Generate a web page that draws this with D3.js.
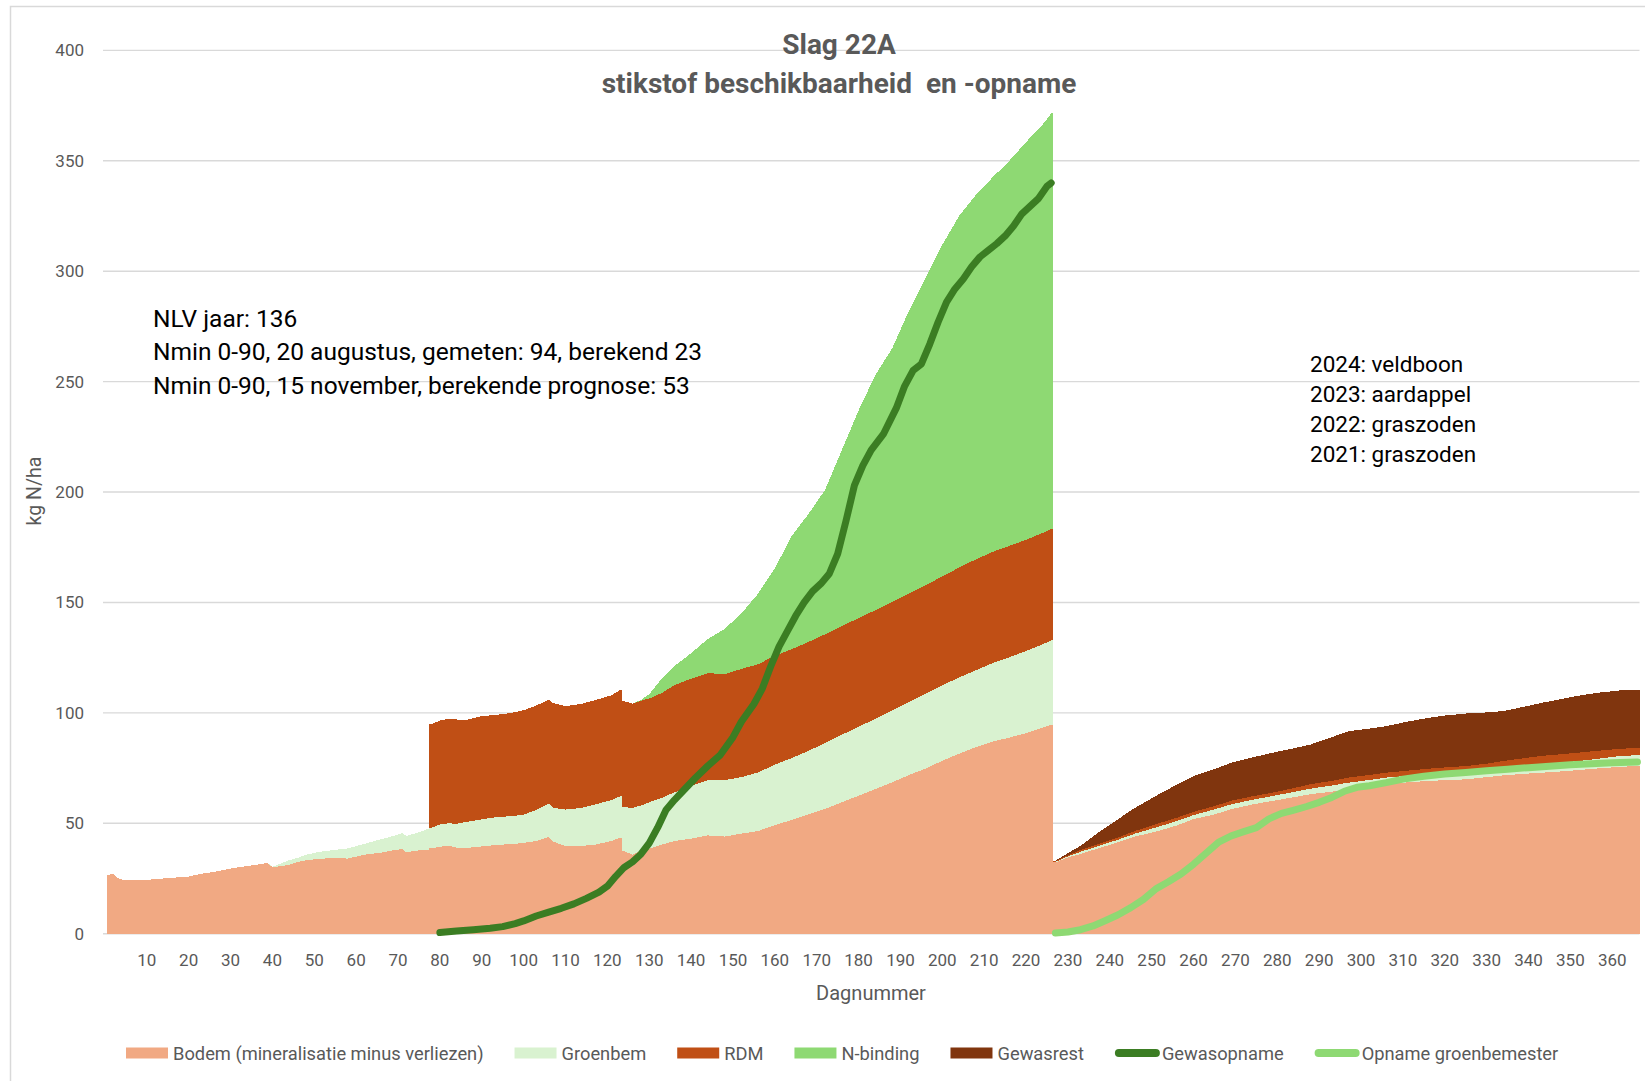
<!DOCTYPE html>
<html>
<head>
<meta charset="utf-8">
<script src="https://cdn.jsdelivr.net/npm/d3@7"></script>
<style>
  body { margin: 0; background: #fff; }
  svg { display: block; }
  text { font-family: Roboto, "Open Sans", sans-serif; }
</style>
</head>
<body>
<svg id="chart" width="1645" height="1081"></svg>
<script>
// ---- data (kg N/ha per dagnummer) ----
const days = [
  1, 2, 3, 5, 8, 12, 16, 20, 23, 26, 31, 35, 38, 39, 40, 41, 44, 46, 48, 51, 55, 58, 62, 66, 69, 71, 72, 75, 77,
  78, 80, 82, 84, 86, 90, 94, 97, 100, 103, 106, 107, 110, 114, 117, 121, 123, 124, 126, 128, 130, 133, 136, 140, 144, 148,
  152, 156, 160, 164, 168, 172, 176, 180, 184, 188, 192, 196, 200, 204, 208, 212, 216, 220, 224, 226,
  227, 230, 233, 237, 242, 246, 251, 256, 260, 265, 269, 274, 279, 284, 288, 293, 297, 302, 306, 311, 316, 320, 325, 330,
  334, 339, 343, 348, 352, 357, 362, 366
];
const bodem = [
  26.7, 27.1, 25.2, 24.1, 24.1, 24.7, 25.3, 25.9, 27.1, 28.0, 29.8, 30.9, 31.8, 31.8, 30.1, 30.3, 31.2, 32.5, 33.2, 33.9,
  34.3, 34.0, 35.8, 36.7, 37.8, 38.3, 36.9, 37.7, 38.1,
  38.6, 39.4, 39.8, 39.0, 38.8, 39.5, 40.3, 40.5, 41.1, 42.0, 43.8, 41.8, 39.6, 39.8, 40.3, 42.0, 43.4, 37.3, 35.8, 37.5,
  38.5, 40.3, 42.0, 43.0, 44.5, 44.0, 45.3, 46.5, 49.2, 51.5, 54.0, 56.5, 59.5, 62.5, 65.5, 68.5, 71.8, 74.8, 78.3, 81.5,
  84.5, 87.0, 88.8, 90.8, 93.3, 94.7,
  32.3, 34.5, 36.1, 38.5, 41.4, 44.0, 46.2, 49.0, 51.9, 54.0, 56.4, 58.5, 60.2, 61.8, 63.2, 64.3, 65.4, 66.5, 67.7, 68.5,
  69.2, 69.5, 69.9, 70.9, 71.7, 72.4, 72.9, 73.5, 74.1, 74.9, 75.6, 75.9
];
const groenbem = [
  0, 0, 0, 0, 0, 0, 0, 0, 0, 0, 0, 0, 0, 0, 0.3, 0.7, 2.1, 1.8, 2.5, 3.1, 3.7, 4.6, 4.9, 6.1, 6.5, 7.2, 7.4, 8.2, 9.3,
  9.3, 10.1, 10.2, 10.8, 11.7, 12.3, 12.6, 12.7, 12.8, 14.0, 15.1, 15.2, 16.6, 17.2, 18.2, 18.5, 18.8, 20.0, 21.2, 20.5,
  21.0, 21.2, 22.0, 24.0, 25.0, 25.5, 25.6, 26.5, 27.4, 28.0, 28.8, 29.8, 30.6, 31.2, 31.8, 32.6, 33.1, 33.8, 34.2, 34.5,
  34.8, 35.5, 36.4, 37.2, 37.8, 38.1,
  0.2, 0.5, 1.0, 1.0, 1.2, 1.3, 1.9, 2.0, 1.8, 2.3, 2.2, 2.1, 2.2, 2.4, 2.5, 2.8, 3.0, 3.1, 3.0, 3.0,
  3.0, 3.5, 3.8, 3.6, 3.5, 3.6, 3.8, 4.0, 4.1, 4.4, 4.9, 4.9
];
const rdm = [
  0, 0, 0, 0, 0, 0, 0, 0, 0, 0, 0, 0, 0, 0, 0, 0, 0, 0, 0, 0, 0, 0, 0, 0, 0, 0, 0, 0, 0,
  47.0, 47.0, 47.3, 47.2, 46.2, 46.7, 46.3, 46.8, 47.3, 47.3, 47.1, 47.5, 46.8, 47.2, 47.2, 47.5, 48.1, 48.0, 47.2, 47.5,
  47.0, 47.5, 48.5, 48.5, 48.5, 48.0, 49.0, 49.0, 49.3, 49.3, 49.3, 49.3, 49.2, 49.2, 49.2, 49.2, 49.2, 49.2, 49.3, 49.8,
  50.2, 50.4, 50.4, 50.4, 50.4, 50.4,
  0.2, 0.5, 0.8, 1.0, 1.0, 1.2, 1.5, 1.5, 1.5, 1.5, 1.6, 1.6, 1.5, 1.8, 2.0, 2.1, 2.3, 2.3, 2.2, 2.3,
  2.5, 2.3, 2.2, 2.5, 3.0, 3.5, 3.8, 3.8, 3.8, 3.6, 3.3, 3.2
];
const nBinding = [
  0, 0, 0, 0, 0, 0, 0, 0, 0, 0, 0, 0, 0, 0, 0, 0, 0, 0, 0, 0, 0, 0, 0, 0, 0, 0, 0, 0, 0,
  0, 0, 0, 0, 0, 0, 0, 0, 0, 0, 0, 0, 0, 0, 0, 0, 0, 0, 0, 0.3,
  2.0, 6.5, 8.7, 11.5, 15.5, 20.5, 25.1, 32.0, 39.6, 51.2, 57.9, 65.4, 79.7, 94.1, 106.5, 114.7, 127.9, 139.2, 150.2, 159.2,
  165.0, 169.6, 174.4, 180.1, 185.0, 188.3,
  0, 0, 0, 0, 0, 0, 0, 0, 0, 0, 0, 0, 0, 0, 0, 0, 0, 0, 0, 0,
  0, 0, 0, 0, 0, 0, 0, 0, 0, 0, 0, 0
];
const gewasrest = [
  0, 0, 0, 0, 0, 0, 0, 0, 0, 0, 0, 0, 0, 0, 0, 0, 0, 0, 0, 0, 0, 0, 0, 0, 0, 0, 0, 0, 0,
  0, 0, 0, 0, 0, 0, 0, 0, 0, 0, 0, 0, 0, 0, 0, 0, 0, 0, 0, 0,
  0, 0, 0, 0, 0, 0, 0, 0, 0, 0, 0, 0, 0, 0, 0, 0, 0, 0, 0, 0,
  0, 0, 0, 0, 0, 0,
  0.4, 1.0, 1.9, 5.0, 8.3, 10.5, 12.8, 15.0, 16.2, 16.7, 17.2, 17.6, 18.1, 18.0, 18.0, 19.8, 21.0, 21.0, 21.1, 22.2,
  23.0, 23.5, 23.8, 23.2, 22.6, 23.3, 24.0, 25.0, 25.8, 26.3, 26.4, 26.2
];
// days after which the stacked columns jump (drawn as vertical edges)
const jumpAfter = [77, 123, 226];

const opnameDays = [
  80, 84, 88, 92, 95, 98, 100, 103, 106, 109, 112, 115, 118, 120, 122, 124, 126, 128, 130, 132,
  134, 136, 138, 141, 144, 147, 150, 152, 155, 157, 159, 161, 163, 165, 167, 169, 171, 173, 175, 177,
  179, 181, 183, 186, 189, 191, 193, 195, 197, 199, 201, 203, 205, 207, 209, 211, 213, 215, 217, 219,
  221, 223, 225, 226
];
const gewasopname = [
  0.5, 1.2, 1.8, 2.5, 3.2, 4.6, 5.8, 8.0, 9.8, 11.5, 13.5, 16.0, 18.8, 21.5, 26.0, 30.0, 32.5, 36.0, 41.0, 48.0,
  56.0, 60.5, 64.5, 70.5, 76.0, 81.0, 89.0, 96.0, 104.0, 111.0, 121.0, 130.0, 137.0, 144.0, 150.0, 155.0, 158.5, 163.0, 172.0, 187.0,
  203.0, 212.0, 219.0, 226.5, 238.0, 248.0, 255.0, 258.0, 267.0, 277.0, 286.0, 292.0, 296.5, 302.0, 306.5, 309.5, 312.5, 316.0, 320.5, 326.0,
  329.5, 333.0, 338.5, 340.0
];
const groenDays = [
  227, 230, 233, 236, 239, 242, 245, 248, 251, 254, 257, 260, 263, 266, 269, 272, 275, 278, 281, 284,
  287, 290, 293, 296, 299, 302, 306, 310, 315, 320, 325, 330, 335, 340, 345, 350, 355, 360, 366
];
const opnameGroen = [
  0.3, 0.8, 1.8, 3.5, 6.0, 8.6, 11.8, 15.5, 20.3, 23.5, 27.0, 31.5, 36.5, 41.5, 44.3, 46.2, 48.0, 52.0, 54.5, 56.0,
  57.6, 59.5, 61.7, 64.5, 66.3, 67.0, 68.4, 70.0, 71.3, 72.3, 73.0, 73.8, 74.5, 75.2, 75.8, 76.5, 77.0, 77.4, 77.8
];

const yTicks = [0, 50, 100, 150, 200, 250, 300, 350, 400];
const xTicks = [10, 20, 30, 40, 50, 60, 70, 80, 90, 100, 110, 120, 130, 140, 150, 160, 170, 180,
  190, 200, 210, 220, 230, 240, 250, 260, 270, 280, 290, 300, 310, 320, 330, 340, 350, 360];

const notesLeft = [
  "NLV jaar: 136",
  "Nmin 0-90, 20 augustus, gemeten: 94, berekend 23",
  "Nmin 0-90, 15 november, berekende prognose: 53"
];
const notesRight = ["2024: veldboon", "2023: aardappel", "2022: graszoden", "2021: graszoden"];

const areaSeries = [
  { key: "bodem", label: "Bodem (mineralisatie minus verliezen)", color: "#F1A983", values: bodem },
  { key: "groenbem", label: "Groenbem", color: "#D9F2D0", values: groenbem },
  { key: "rdm", label: "RDM", color: "#C04F15", values: rdm },
  { key: "nbinding", label: "N-binding", color: "#8ED973", values: nBinding },
  { key: "gewasrest", label: "Gewasrest", color: "#80350E", values: gewasrest }
];
const lineSeries = [
  { label: "Gewasopname", color: "#3B7D23", days: opnameDays, values: gewasopname },
  { label: "Opname groenbemester", color: "#8ED973", days: groenDays, values: opnameGroen }
];

// ---- layout ----
const svg = d3.select("#chart");
const plot = { left: 107, right: 1639.5, top: 50.4, bottom: 933.7 };
const x = d3.scaleLinear().domain([0.5, 366.5]).range([plot.left, plot.right]);
const y = d3.scaleLinear().domain([0, 400]).range([plot.bottom, plot.top]);
const grey = "#595959";

// chart border
svg.append("rect")
  .attr("x", 10.5).attr("y", 6.5).attr("width", 1700).attr("height", 1200)
  .attr("fill", "none").attr("stroke", "#d9d9d9").attr("stroke-width", 1.5);

// gridlines + y labels
svg.append("g").selectAll("line").data(yTicks).join("line")
  .attr("x1", plot.left - 4).attr("x2", plot.right)
  .attr("y1", d => y(d)).attr("y2", d => y(d))
  .attr("stroke", "#d9d9d9").attr("stroke-width", 1.4);

svg.append("g").selectAll("text").data(yTicks).join("text")
  .attr("x", 84).attr("y", d => y(d))
  .attr("text-anchor", "end").attr("dominant-baseline", "central")
  .attr("font-size", 17).attr("fill", grey)
  .text(d => d);

// stacked areas, drawn per segment so jumps are vertical column edges
const rows = days.map((d, i) => {
  const r = { day: d };
  areaSeries.forEach(s => { r[s.key] = s.values[i]; });
  return r;
});
const stacked = d3.stack().keys(areaSeries.map(s => s.key))(rows);

const segments = [];
let start = 0;
days.forEach((d, i) => {
  if (jumpAfter.includes(d) || i === days.length - 1) {
    segments.push([start, i]);
    start = i + 1;
  }
});

const area = d3.area()
  .x(p => x(p.xd))
  .y0(p => y(p.y0))
  .y1(p => y(p.y1));

const areaG = svg.append("g");
stacked.forEach((layer, k) => {
  segments.forEach(([a, b]) => {
    const pts = [];
    pts.push({ xd: days[a] - 0.5, y0: layer[a][0], y1: layer[a][1] });
    for (let i = a; i <= b; i++) pts.push({ xd: days[i], y0: layer[i][0], y1: layer[i][1] });
    pts.push({ xd: days[b] + 0.5, y0: layer[b][0], y1: layer[b][1] });
    if (d3.max(pts, p => p.y1 - p.y0) <= 0) return;
    areaG.append("path")
      .attr("d", area(pts))
      .attr("fill", areaSeries[k].color)
      .attr("shape-rendering", "crispEdges");
  });
});

// lines
const line = d3.line().x(d => x(d[0])).y(d => y(d[1]));
lineSeries.forEach(s => {
  svg.append("path")
    .datum(s.days.map((d, i) => [d, s.values[i]]))
    .attr("d", line)
    .attr("fill", "none")
    .attr("stroke", s.color)
    .attr("stroke-width", 7)
    .attr("stroke-linecap", "round")
    .attr("stroke-linejoin", "round");
});

// x labels
svg.append("g").selectAll("text").data(xTicks).join("text")
  .attr("x", d => x(d)).attr("y", 960)
  .attr("text-anchor", "middle").attr("dominant-baseline", "central")
  .attr("font-size", 17).attr("fill", grey)
  .text(d => d);

svg.append("text")
  .attr("x", 871).attr("y", 993)
  .attr("text-anchor", "middle").attr("dominant-baseline", "central")
  .attr("font-size", 20).attr("fill", grey)
  .text("Dagnummer");

svg.append("text")
  .attr("transform", "translate(34,491) rotate(-90)")
  .attr("text-anchor", "middle").attr("dominant-baseline", "central")
  .attr("font-size", 19.5).attr("fill", grey)
  .text("kg N/ha");

// title
svg.append("text")
  .attr("x", 839).attr("y", 44)
  .attr("text-anchor", "middle").attr("dominant-baseline", "central")
  .attr("font-size", 28).attr("font-weight", "bold").attr("fill", grey)
  .text("Slag 22A");
svg.append("text")
  .attr("x", 839).attr("y", 83)
  .attr("text-anchor", "middle").attr("dominant-baseline", "central")
  .attr("font-size", 28).attr("font-weight", "bold").attr("fill", grey)
  .attr("xml:space", "preserve")
  .text("stikstof beschikbaarheid  en -opname");

// annotations
svg.append("g").selectAll("text").data(notesLeft).join("text")
  .attr("x", 153).attr("y", (d, i) => 318 + i * 33.5)
  .attr("dominant-baseline", "central")
  .attr("font-size", 24.5).attr("fill", "#000")
  .text(d => d);

svg.append("g").selectAll("text").data(notesRight).join("text")
  .attr("x", 1310).attr("y", (d, i) => 364 + i * 30)
  .attr("dominant-baseline", "central")
  .attr("font-size", 22.5).attr("fill", "#000")
  .text(d => d);

// legend
const legendItems = areaSeries.map(s => ({ label: s.label, color: s.color, kind: "rect" }))
  .concat(lineSeries.map(s => ({ label: s.label, color: s.color, kind: "line" })));
const legend = svg.append("g");
let lx = 126;
const ly = 1053;
legendItems.forEach(it => {
  if (it.kind === "rect") {
    legend.append("rect")
      .attr("x", lx).attr("y", ly - 5.5).attr("width", 42).attr("height", 11)
      .attr("fill", it.color);
  } else {
    legend.append("line")
      .attr("x1", lx + 4).attr("x2", lx + 41).attr("y1", ly).attr("y2", ly)
      .attr("stroke", it.color).attr("stroke-width", 8).attr("stroke-linecap", "round");
  }
  const t = legend.append("text")
    .attr("x", lx + 47).attr("y", ly)
    .attr("dominant-baseline", "central")
    .attr("font-size", 18.3).attr("fill", grey)
    .text(it.label);
  lx += 47 + t.node().getComputedTextLength() + 31;
});
</script>
</body>
</html>
